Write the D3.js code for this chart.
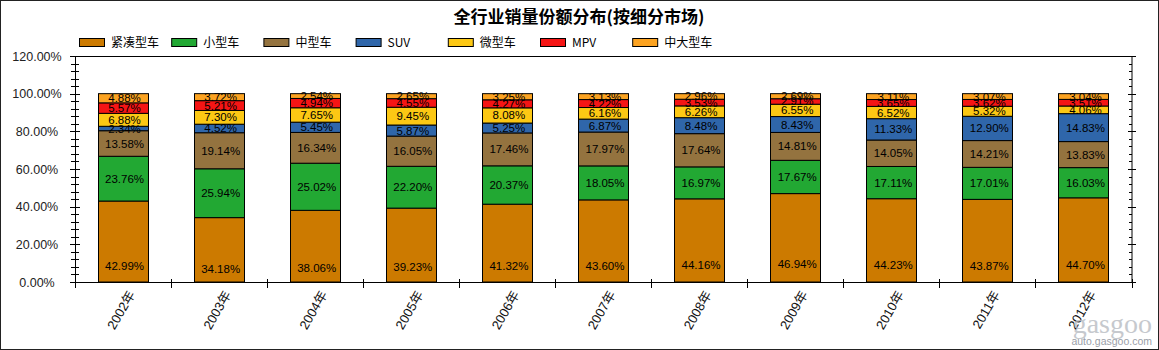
<!DOCTYPE html>
<html>
<head>
<meta charset="utf-8">
<script src="https://cdn.jsdelivr.net/npm/d3@7"></script>
<style>
  html, body { margin: 0; padding: 0; background: #fff; }
  svg { display: block; }
</style>
</head>
<body>
<svg id="chart" width="1159" height="350"></svg>
<script>
// Market share by segment, percent of total sales per year
const years = ["2002年","2003年","2004年","2005年","2006年","2007年","2008年","2009年","2010年","2011年","2012年"];
const seriesNames = ["紧凑型车","小型车","中型车","SUV","微型车","MPV","中大型车"];
const compact   = [42.99, 34.18, 38.06, 39.23, 41.32, 43.60, 44.16, 46.94, 44.23, 43.87, 44.70];
const small     = [23.76, 25.94, 25.02, 22.20, 20.37, 18.05, 16.97, 17.67, 17.11, 17.01, 16.03];
const midsize   = [13.58, 19.14, 16.34, 16.05, 17.46, 17.97, 17.64, 14.81, 14.05, 14.21, 13.83];
const suv       = [ 2.34,  4.52,  5.45,  5.87,  5.25,  6.87,  8.48,  8.43, 11.33, 12.90, 14.83];
const mini      = [ 6.88,  7.30,  7.65,  9.45,  8.08,  6.16,  6.26,  6.55,  6.52,  5.32,  4.06];
const mpv       = [ 5.57,  5.21,  4.94,  4.55,  4.27,  4.22,  3.53,  2.91,  3.65,  3.62,  3.51];
const large     = [ 4.88,  3.72,  2.54,  2.65,  3.25,  3.13,  2.96,  2.69,  3.11,  3.07,  3.04];
const yTicks = [0, 20, 40, 60, 80, 100, 120];

const seriesValues = [compact, small, midsize, suv, mini, mpv, large];
const colors = ["#cc7a00", "#22a833", "#94733f", "#2f66aa", "#fcc814", "#f51515", "#fca321"];

const svg = d3.select("#chart");
const W = 1159, H = 350;
const plot = { left: 74.5, right: 1131.5, top: 56, bottom: 282 };

// outer frame
svg.append("rect").attr("x", 0.5).attr("y", 0.5).attr("width", W - 1).attr("height", H - 1)
  .attr("fill", "#fff").attr("stroke", "#222");

// title
svg.append("text")
  .attr("x", 579).attr("y", 23)
  .attr("text-anchor", "middle")
  .attr("font-family", "'Noto Sans CJK SC', sans-serif")
  .attr("font-weight", "bold").attr("font-size", 17)
  .attr("fill", "#000")
  .text("全行业销量份额分布(按细分市场)");

// legend
const legend = svg.append("g");
seriesNames.forEach((name, i) => {
  const lx = 79 + i * 92.2;
  legend.append("rect").attr("x", lx + 0.5).attr("y", 38.5).attr("width", 25).attr("height", 8)
    .attr("fill", colors[i]).attr("stroke", "#000").attr("stroke-width", 1);
  legend.append("text").attr("x", lx + 32).attr("y", 47)
    .attr("font-family", "'Noto Sans CJK SC', 'Liberation Sans', sans-serif")
    .attr("font-size", 12).attr("fill", "#000").text(name);
});

// scales
const x = d3.scaleBand().domain(years).range([plot.left, plot.right])
  .paddingInner(0.48).paddingOuter(0.24);
const y = d3.scaleLinear().domain([0, 120]).range([plot.bottom, plot.top]);

// stacked data
const table = years.map((yr, i) => {
  const row = { year: yr };
  seriesNames.forEach((s, k) => { row[s] = seriesValues[k][i]; });
  return row;
});
const stacked = d3.stack().keys(seriesNames)(table);

const barsG = svg.append("g");
stacked.forEach((layer, k) => {
  barsG.selectAll(null).data(layer).enter().append("rect")
    .attr("x", d => Math.round(x(d.data.year)) + 0.5)
    .attr("y", d => y(d[1]))
    .attr("width", Math.round(x.bandwidth()))
    .attr("height", d => y(d[0]) - y(d[1]))
    .attr("fill", colors[k])
    .attr("stroke", "#000").attr("stroke-width", 1);
});

// value labels: the base segment is labelled low in its bar, the rest at mid-segment
const labelsG = svg.append("g")
  .attr("font-family", "'Liberation Sans', Arial, sans-serif")
  .attr("font-size", 11.5).attr("fill", "#000");
stacked.forEach((layer, k) => {
  const frac = k === 0 ? 0.2 : 0.5;
  labelsG.selectAll(null).data(layer).enter().append("text")
    .attr("x", d => x(d.data.year) + x.bandwidth() / 2 + 2)
    .attr("y", d => y(d[0] + (d[1] - d[0]) * frac))
    .attr("dy", "0.35em")
    .attr("text-anchor", "middle")
    .text(d => (d[1] - d[0]).toFixed(2) + "%");
});

// plot frame: top and right edges
svg.append("line").attr("x1", plot.left).attr("x2", plot.right + 0.5)
  .attr("y1", plot.top + 0.5).attr("y2", plot.top + 0.5).attr("stroke", "#000");
svg.append("line").attr("x1", plot.right + 0.5).attr("x2", plot.right + 0.5)
  .attr("y1", plot.top).attr("y2", plot.bottom).attr("stroke", "#000");

// left axis, labels centred in the margin
const yAxis = d3.axisLeft(y).tickValues(yTicks).tickSize(0).tickPadding(0)
  .tickFormat(d => d.toFixed(2) + "%");
const yg = svg.append("g").attr("transform", `translate(${plot.left + 0.5},0)`).call(yAxis);
yg.select(".domain").attr("stroke", "#000");
yg.selectAll("text")
  .attr("x", 37 - plot.left - 0.5)
  .attr("text-anchor", "middle")
  .attr("font-family", "'Liberation Sans', Arial, sans-serif")
  .attr("font-size", 12.5).attr("fill", "#222");
const minor = d3.range(0, 121, 4);
svg.append("g").selectAll("line").data(minor).enter().append("line")
  .attr("x1", d => plot.left + 0.5 - (d % 20 === 0 ? 5 : 4))
  .attr("x2", d => plot.left + 0.5 + (d % 20 === 0 ? 5 : 4))
  .attr("y1", d => Math.round(y(d)) + 0.5).attr("y2", d => Math.round(y(d)) + 0.5)
  .attr("stroke", "#000");
// right axis ticks
svg.append("g").selectAll("line").data(minor).enter().append("line")
  .attr("x1", d => plot.right + 0.5 - (d % 20 === 0 ? 4 : 3))
  .attr("x2", d => plot.right + 0.5 + (d % 20 === 0 ? 4 : 0))
  .attr("y1", d => Math.round(y(d)) + 0.5).attr("y2", d => Math.round(y(d)) + 0.5)
  .attr("stroke", "#000");

// bottom axis with boundary ticks between categories
svg.append("line").attr("x1", plot.left).attr("x2", plot.right + 1)
  .attr("y1", plot.bottom + 0.5).attr("y2", plot.bottom + 0.5).attr("stroke", "#000");
const step = x.step();
const bounds = d3.range(years.length + 1).map(i => plot.left + i * step);
svg.append("g").selectAll("line").data(bounds).enter().append("line")
  .attr("x1", d => Math.round(d) + 0.5).attr("x2", d => Math.round(d) + 0.5)
  .attr("y1", plot.bottom - 3).attr("y2", plot.bottom + 6)
  .attr("stroke", "#000");

svg.append("g").selectAll("text").data(years).enter().append("text")
  .attr("transform", d => `translate(${x(d) + x.bandwidth() / 2 + 9},${plot.bottom + 10}) rotate(-60)`)
  .attr("text-anchor", "end")
  .attr("dy", "0.35em")
  .attr("font-family", "'Liberation Sans', 'Noto Sans CJK SC', sans-serif")
  .attr("font-size", 13).attr("fill", "#111")
  .text(d => d);

// site mark in the corner
svg.append("text").attr("x", 1152).attr("y", 345).attr("text-anchor", "end")
  .attr("font-family", "'Liberation Sans', sans-serif").attr("font-size", 10.5)
  .attr("fill", "#9aa0a8").text("auto.gasgoo.com");
svg.append("text").attr("x", 1152).attr("y", 333).attr("text-anchor", "end")
  .attr("font-family", "'Liberation Serif', serif").attr("font-size", 28)
  .attr("fill", "#b8bcc2").attr("opacity", 0.8).text("gasgoo");
</script>
</body>
</html>
